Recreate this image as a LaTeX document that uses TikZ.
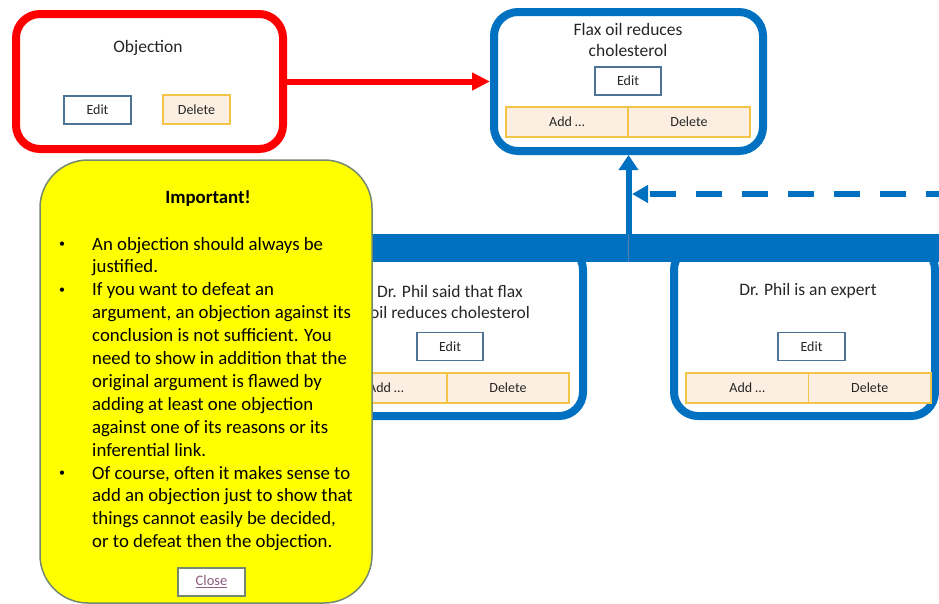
\documentclass[tikz,border=0pt]{standalone}
\usepackage{fontspec}
\setmainfont{Carlito}
\usepackage{xcolor}
\usetikzlibrary{arrows.meta}
\definecolor{objred}{HTML}{FF0000}
\definecolor{argblue}{HTML}{0070C0}
\definecolor{editline}{HTML}{4F7396}
\definecolor{addfill}{HTML}{FCEFE1}
\definecolor{addline}{HTML}{F2C447}
\definecolor{notefill}{HTML}{FFFF00}
\definecolor{noteline}{HTML}{75896F}
\definecolor{closetext}{HTML}{8E5B80}
\definecolor{inktext}{HTML}{262626}
\definecolor{seam}{HTML}{4D7FAF}
\newcommand{\notebullet}{\llap{\raisebox{2.5pt}{\fontsize{12}{12}\selectfont\textbullet}\hspace{27pt}}}
\tikzset{
	claim/.style={draw, line width=8pt, rounded corners=24pt, fill=white},
	claimtext/.style={font=\fontsize{17.5}{21}\selectfont, text=inktext, align=center, inner sep=0pt},
	editbtn/.style={draw=editline, fill=white, line width=1.2pt, minimum width=66pt, minimum height=28pt, inner sep=0pt, font=\fontsize{14}{16}\selectfont, text=inktext},
	addbtn/.style={draw=addline, fill=addfill, line width=1.2pt, minimum width=122pt, minimum height=30pt, inner sep=0pt, font=\fontsize{14}{16}\selectfont, text=inktext},
	joint/.style={line width=6pt}
}

\begin{document}
\begin{tikzpicture}[x=1pt, y=-1pt]
	\useasboundingbox (0,0) rectangle (939,603);
	% reasons
	\node[claim, draw=argblue, minimum width=269pt, minimum height=170pt] (said) at (448.5,331) {};
	\node[claimtext] (saidtext) at (450,301.5) {Dr. Phil said that flax\\oil reduces cholesterol};
	\node[editbtn] (saidedit) at (450,346.5) {Edit};
	\node[addbtn] (saidadd) at (386,388) {Add …};
	\node[addbtn] (saiddel) at (508,388) {Delete};

	\node[claim, draw=argblue, minimum width=261pt, minimum height=170pt] (expert) at (804.5,331) {};
	\node[claimtext] (experttext) at (808,291) {Dr. Phil is an expert};
	\node[editbtn, minimum width=67pt] (expertedit) at (811.5,346.5) {Edit};
	\node[addbtn, minimum width=122.5pt] (expertadd) at (747.25,388) {Add …};
	\node[addbtn, minimum width=122.5pt] (expertdel) at (869.75,388) {Delete};

	\node[fill=argblue, inner sep=0pt, minimum width=639pt, minimum height=28pt, anchor=north west] (bar) at (300,234) {};

	% claim and objection
	\node[claim, draw=argblue, minimum width=269pt, minimum height=139pt] (flax) at (628.5,81.5) {};
	\node[claimtext] (flaxtext) at (628,39.5) {Flax oil reduces\\cholesterol};
	\node[editbtn] (flaxedit) at (628,81) {Edit};
	\node[addbtn] (flaxadd) at (567,122) {Add …};
	\node[addbtn] (flaxdel) at (689,122) {Delete};

	\node[claim, draw=objred, minimum width=267pt, minimum height=135pt] (obj) at (149.5,81.5) {};
	\node[claimtext] (objtext) at (148,48) {Objection};
	\node[editbtn, minimum width=67pt] (objedit) at (97.5,110) {Edit};
	\node[addbtn, minimum width=67pt, minimum height=29pt] (objdel) at (196.5,109.5) {Delete};

	\coordinate (dashin) at (939,194);
	\coordinate (dashtip) at (632,194);
	\draw[seam, line width=0.8pt] (flax.south |- bar.north) -- (flax.south |- bar.south);
	\draw[joint, argblue, -{Triangle[length=15pt,width=19pt]}] (flax.south |- bar.north) -- (flax.south);
	\draw[joint, argblue, dash pattern=on 26pt off 20pt, dash phase=13pt, -{Triangle[length=16pt,width=17pt]}] (dashin) -- (dashtip);
	\draw[joint, objred, -{Triangle[length=18pt,width=17pt]}] (obj.east) -- (flax.west);

	% popup
	\node[draw=noteline, fill=notefill, line width=1.5pt, rounded corners=48pt, minimum width=332pt, minimum height=443pt, inner sep=0pt] (note) at (206,381.5) {};
	\node[font=\bfseries\fontsize{18.8}{23}\selectfont] (heading) at (208,199) {Important!};
	\node[anchor=west, align=left, inner sep=0pt, font=\fontsize{18.8}{22.9}\selectfont] (notes) at (92,394) {%
		\notebullet An objection should always be\\
		justified.\\
		\notebullet If you want to defeat an\\
		argument, an objection against its\\
		conclusion is not sufficient. You\\
		need to show in addition that the\\
		original argument is flawed by\\
		adding at least one objection\\
		against one of its reasons or its\\
		inferential link.\\
		\notebullet Of course, often it makes sense to\\
		add an objection just to show that\\
		things cannot easily be decided,\\
		or to defeat then the objection.};
	\node[draw=noteline, fill=white, line width=1.2pt, minimum width=67pt, minimum height=28pt, inner sep=0pt, font=\fontsize{14.5}{16}\selectfont, text=closetext] (close) at (211.5,582) {\underline{Close}};
\end{tikzpicture}
\end{document}
